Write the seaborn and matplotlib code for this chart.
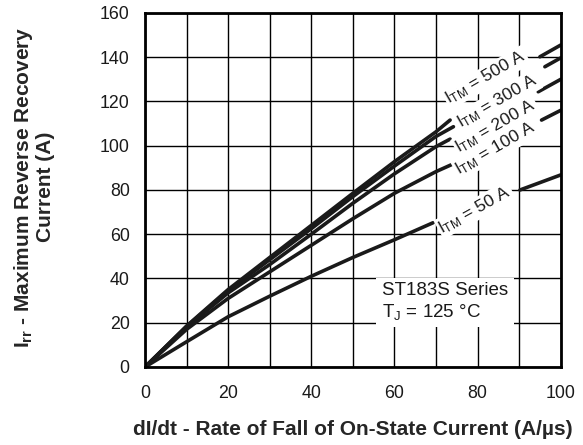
import numpy as np
import pandas as pd
import seaborn as sns
import matplotlib.pyplot as plt

# (dI/dt in A/us, Irr in A)
x_left = [0, 10, 20, 30, 40, 50, 60, 70]
irr_500_left = [0, 18.5, 35, 49.5, 64, 78.5, 92.8, 106.3]
irr_300_left = [0, 18.3, 34.5, 48.5, 62.5, 77, 90.8, 104.2]
irr_200_left = [0, 18, 33.5, 46.3, 60, 74, 87.3, 99.6]
irr_100_left = [0, 17, 31, 43, 55, 67, 78.5, 88.3]
irr_50_left = [0, 11.4, 22.7, 32, 41, 49.5, 57.5, 65]

# end of the left pieces (just before the labels)
x_end = {"500": 73.4, "300": 74.2, "200": 73.4, "100": 73.8, "50": 69.3}
irr_end = {"500": 111.6, "300": 108.6, "200": 103.0, "100": 91.5, "50": 65.2}

# right pieces (after the labels)
x_right = {"500": [95, 100], "300": [96.2, 100], "200": [94.6, 100],
           "100": [95.4, 100], "50": [90.2, 100]}
irr_right = {"500": [140.2, 145.5], "300": [135.7, 139.7], "200": [124.4, 130],
             "100": [111.6, 116], "50": [80, 86.8]}

currents = ["500", "300", "200", "100", "50"]
left_vals = {"500": irr_500_left, "300": irr_300_left, "200": irr_200_left,
             "100": irr_100_left, "50": irr_50_left}

# label centres (data coords)
label_pos = {"500": (82.0, 130.8), "300": (84.8, 120.0), "200": (84.4, 108.8),
             "100": (84.4, 98.8), "50": (79.4, 71.0)}

rows = []
for c in currents:
    xs = list(x_left)
    ys = list(left_vals[c])
    if c == "50":
        xs = xs[:-1]
        ys = ys[:-1]
    xs.append(x_end[c])
    ys.append(irr_end[c])
    for xv, yv in zip(xs, ys):
        rows.append({"didt": xv, "irr": yv, "curve": c + "_a"})
    for xv, yv in zip(x_right[c], irr_right[c]):
        rows.append({"didt": xv, "irr": yv, "curve": c + "_b"})
df = pd.DataFrame(rows)

sns.set_style("white")
plt.rcParams["font.family"] = ["Liberation Sans", "DejaVu Sans"]
plt.rcParams["mathtext.fontset"] = "custom"
plt.rcParams["mathtext.rm"] = "Liberation Sans"
plt.rcParams["mathtext.bf"] = "Liberation Sans:bold"
plt.rcParams["mathtext.it"] = "Liberation Sans:italic"
plt.rcParams["mathtext.default"] = "rm"

fig = plt.figure(figsize=(5.83, 4.45), dpi=100)
ax = fig.add_axes([0.2487, 0.1753, 0.7130, 0.7955])

for name, seg in df.groupby("curve"):
    sns.lineplot(data=seg, x="didt", y="irr", color="#1a1a1a", linewidth=2.6,
                 ax=ax, sort=False, estimator=None)

ax.set_xlim(0, 100)
ax.set_ylim(0, 160)
ax.set_xticks(np.arange(0, 101, 10))
ax.set_xticklabels([str(v) if v % 20 == 0 else "" for v in range(0, 101, 10)])
ax.set_yticks(np.arange(0, 161, 20))
ax.grid(True, color="black", linewidth=1.0)
ax.set_axisbelow(True)
for sp in ax.spines.values():
    sp.set_linewidth(2.0)
    sp.set_color("black")
ax.tick_params(axis="both", length=0, labelsize=12.8, colors="black")
ax.tick_params(axis="x", pad=13)
ax.tick_params(axis="y", pad=11)
for t in ax.get_xticklabels() + ax.get_yticklabels():
    t.set_color("#1a1a1a")

for c in currents:
    px, py = label_pos[c]
    ax.text(px, py, r"$I_{TM}$ = " + c + " A", fontsize=12.5, rotation=30 if c != "50" else 29,
            ha="center", va="center", rotation_mode="anchor", color="#1a1a1a",
            bbox=dict(facecolor="white", edgecolor="none", pad=1.0), zorder=5)

ax.text(57, 29.4, "ST183S Series\n" + r"$T_J$ = 125 °C", fontsize=13.5, ha="left", va="center",
        linespacing=1.15, color="#1a1a1a",
        bbox=dict(facecolor="white", edgecolor="none", pad=4), zorder=5)

ax.set_xlabel(r"dI/dt - Rate of Fall of On-State Current (A/µs)", fontsize=15, fontweight="bold")
ax.set_ylabel(r"$\mathbf{I_{rr}}$ - Maximum Reverse Recovery" + "\nCurrent (A)",
              fontsize=15, fontweight="bold", linespacing=1.05)
ax.xaxis.set_label_coords(0.5, -0.150)
ax.yaxis.set_label_coords(-0.2165, 0.508)
ax.get_xaxis().label.set_va("top")

fig.savefig("out.png", dpi=100)
